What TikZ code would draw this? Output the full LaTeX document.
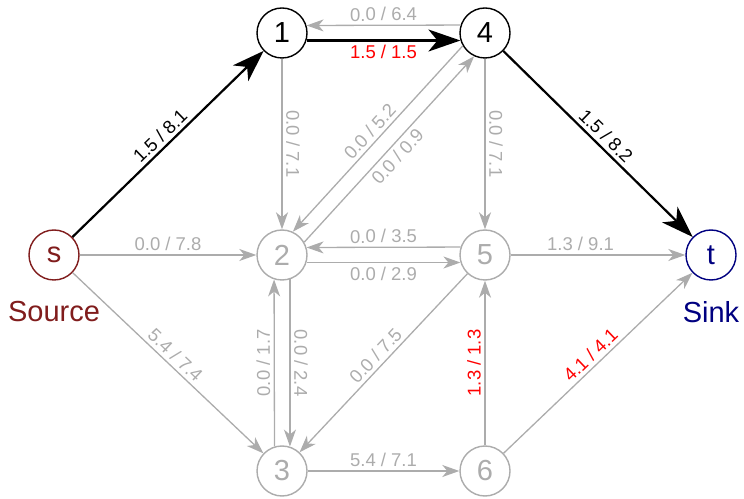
\documentclass[tikz,border=0pt]{standalone}
\usepackage{fontspec}
\setmainfont{Liberation Sans}
\usetikzlibrary{arrows.meta,positioning}
\definecolor{srccol}{RGB}{128,28,28}
\definecolor{sinkcol}{RGB}{0,0,128}
\definecolor{idle}{RGB}{172,172,172}
\begin{document}
\begin{tikzpicture}[x=1pt,y=1pt,
	vert/.style={circle,draw,line width=1.4pt,fill=white,minimum size=50pt,inner sep=0pt,font=\fontsize{29}{30}\selectfont},
	used/.style={vert,draw=black},
	unused/.style={vert,draw=idle,text=idle},
	src/.style={vert,draw=srccol,text=srccol},
	snk/.style={vert,draw=sinkcol,text=sinkcol},
	flow/.style={line width=2.2pt,-{Stealth[length=32pt,width=22pt,inset=9pt]}},
	zero/.style={idle,line width=1.3pt,-{Stealth[length=17pt,width=12pt,inset=5pt]}},
	lbl/.style={sloped,inner sep=3.5pt,font=\fontsize{18.5}{20}\selectfont}]
	\useasboundingbox (0,0) rectangle (744,498);
	% vertices
	\foreach \n/\x/\y/\sty in {s/54/243/src, 1/282/465/used, 4/485/465/used, 2/282/243/unused,
		5/485/243/unused, t/711/243/snk, 3/282/27/unused, 6/485/27/unused}{
		\node[\sty] (\n) at (\x,\y) {\n};
	}
	\node[below=17pt of s,text=srccol,font=\fontsize{29}{30}\selectfont] (srclbl) {Source};
	\node[below=17pt of t,text=sinkcol,font=\fontsize{29}{30}\selectfont] (snklbl) {Sink};
	% augmenting path
	\draw[flow] (s) -- node[lbl,above]{1.5 / 8.1} (1);
	\draw[flow] (1.-17.5) -- node[lbl,below,red]{1.5 / 1.5} (4.197.5);
	\draw[flow] (4) -- node[lbl,above]{1.5 / 8.2} (t);
	% parallel pairs
	\draw[zero] (4.162.5) -- node[lbl,above]{0.0 / 6.4} (1.17.5);
	\draw[zero] (4.210) -- node[lbl,above]{0.0 / 5.2} (2.65);
	\draw[zero] (2.30) -- node[lbl,below]{0.0 / 0.9} (4.245);
	\draw[zero] (5.162.5) -- node[lbl,above]{0.0 / 3.5} (2.17.5);
	\draw[zero] (2.-17.5) -- node[lbl,below]{0.0 / 2.9} (5.197.5);
	\draw[zero] (3.107.5) -- node[lbl,above,allow upside down]{0.0 / 1.7} (2.252.5);
	\draw[zero] (2.-72.5) -- node[lbl,above]{0.0 / 2.4} (3.72.5);
	% remaining edges
	\foreach \a/\b/\f/\c in {1/2/0.0/7.1, 4/5/0.0/7.1, s/2/0.0/7.8, s/3/5.4/7.4, 5/3/0.0/7.5, 3/6/5.4/7.1}{
		\draw[zero] (\a) -- node[lbl,above]{\f{} / \c} (\b);
	}
	\draw[zero] (5) -- node[lbl,above,pos=0.4]{1.3 / 9.1} (t);
	\draw[zero] (6) -- node[lbl,above,red]{1.3 / 1.3} (5);
	\draw[zero] (6) -- node[lbl,above,red]{4.1 / 4.1} (t);
\end{tikzpicture}
\end{document}
